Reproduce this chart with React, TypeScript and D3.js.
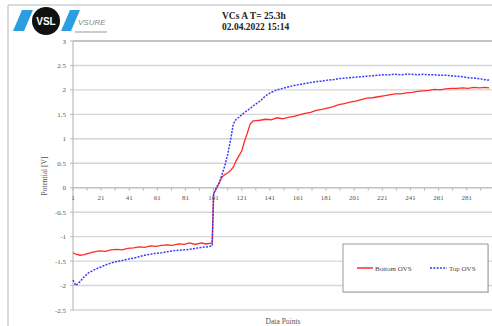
import React from "react";
import * as d3 from "d3";

// sampled data point numbers (shared by both series)
const pointNo = [
  1, 3, 6, 9, 12, 16, 20, 24, 28, 32, 36, 40, 44, 48, 52, 56, 60, 64, 68, 72, 76, 80, 84, 88, 92, 96, 100,
  101, 103, 105, 107, 109, 111, 113, 115, 117, 119, 121, 123, 125, 127, 129, 131, 134, 138, 142, 146, 150,
  154, 158, 162, 166, 170, 174, 178, 182, 186, 190, 194, 198, 202, 206, 210, 214, 218, 222, 226, 230, 234,
  238, 242, 246, 250, 254, 258, 262, 266, 270, 274, 278, 282, 286, 290, 294, 297,
];

const bottomOVS = [
  -1.33, -1.36, -1.38, -1.37, -1.34, -1.31, -1.29, -1.3, -1.27, -1.26, -1.27, -1.24, -1.23, -1.21, -1.22,
  -1.19, -1.2, -1.18, -1.17, -1.18, -1.15, -1.16, -1.13, -1.16, -1.13, -1.15, -1.13,
  -0.12, -0.02, 0.1, 0.22, 0.27, 0.3, 0.35, 0.42, 0.55, 0.65, 0.75, 0.95, 1.12, 1.3, 1.36, 1.37, 1.38, 1.4,
  1.39, 1.43, 1.41, 1.44, 1.46, 1.49, 1.52, 1.54, 1.58, 1.6, 1.63, 1.66, 1.7, 1.72, 1.75, 1.77, 1.8, 1.83,
  1.84, 1.86, 1.88, 1.9, 1.92, 1.92, 1.94, 1.95, 1.97, 1.98, 1.99, 2.01, 2.0, 2.02, 2.03, 2.03, 2.04, 2.03,
  2.05, 2.04, 2.05, 2.04,
];

const topOVS = [
  -1.89, -2.0, -1.92, -1.82, -1.74, -1.68, -1.63, -1.58, -1.54, -1.51, -1.49, -1.46, -1.44, -1.41, -1.38,
  -1.36, -1.34, -1.33, -1.31, -1.29, -1.28, -1.27, -1.26, -1.24, -1.22, -1.21, -1.19,
  -0.12, 0.0, 0.1, 0.27, 0.45, 0.68, 0.97, 1.3, 1.4, 1.44, 1.49, 1.54, 1.58, 1.62, 1.67, 1.71, 1.77, 1.88,
  1.95, 2.0, 2.03, 2.06, 2.09, 2.11, 2.13, 2.15, 2.17, 2.18, 2.2, 2.21, 2.23, 2.24, 2.25, 2.26, 2.27, 2.28,
  2.29, 2.3, 2.31, 2.31, 2.32, 2.31, 2.32, 2.32, 2.31, 2.32, 2.31, 2.31, 2.3, 2.3, 2.29, 2.28, 2.27, 2.25,
  2.24, 2.23, 2.21, 2.2,
];

const xLabels = [1, 21, 41, 61, 81, 101, 121, 141, 161, 181, 201, 221, 241, 261, 281];
const yTicks = [3, 2.5, 2, 1.5, 1, 0.5, 0, -0.5, -1, -1.5, -2, -2.5];

const W = 492;
const H = 326;
const serif = "'Liberation Serif', 'DejaVu Serif', serif";

export default function App() {
  const x = d3.scaleLinear().domain([1, 299]).range([73, 492]);
  const y = d3.scaleLinear().domain([-2.5, 3]).range([310, 41]);

  const line = d3
    .line<number>()
    .x((_, i) => x(pointNo[i]))
    .y((d) => y(d));

  const minorTicks = d3.range(1, 299, 10);

  return (
    <svg
      width={W}
      height={H}
      style={{ position: "absolute", left: 0, top: 0, display: "block", background: "#fff" }}
    >
      {/* outer frame */}
      <line x1={8} y1={5} x2={W} y2={5} stroke="#cfcfcf" strokeWidth={1.5} />
      <line x1={8} y1={5} x2={8} y2={H} stroke="#cfcfcf" strokeWidth={1.5} />

      {/* logo */}
      <path d="M22,10 L33,10 L24,31 L13,31 Z" fill="#2a9ee0" />
      <path d="M70,10 L80,10 L71,31 L61,31 Z" fill="#2a9ee0" />
      <circle cx={46} cy={21} r={14} fill="#111" />
      <text x={46} y={24.5} textAnchor="middle" fill="#fff" fontFamily="'Liberation Sans', Arial, sans-serif"
        fontWeight="bold" fontSize={10}>VSL</text>
      <text x={78} y={25} fill="#888" fontFamily="'Liberation Sans', Arial, sans-serif" fontStyle="italic"
        fontSize={8}>VSURE</text>
      <line x1={75} y1={32} x2={107} y2={32} stroke="#aaa" strokeWidth={1.2} />

      {/* title */}
      <text x={222} y={19} fontFamily={serif} fontWeight="bold" fontSize={9.5} fill="#222">VCs A T= 25.3h</text>
      <text x={222} y={30} fontFamily={serif} fontWeight="bold" fontSize={9.5} fill="#222">02.04.2022 15:14</text>

      {/* grid */}
      {yTicks.map((t) => (
        <g key={t}>
          <line x1={x(1)} x2={W} y1={y(t)} y2={y(t)} stroke={t === 3 ? "#c4c4c4" : "#d6d6d6"}
            strokeWidth={t === 3 ? 2 : 1.4} />
          <line x1={x(1) - 3} x2={x(1)} y1={y(t)} y2={y(t)} stroke="#bbb" />
          <text x={66} y={y(t) + 2.5} textAnchor="end" fontFamily={serif} fontSize={7} fill="#555">
            {String(t)}
          </text>
        </g>
      ))}
      <line x1={x(1)} x2={x(1)} y1={y(3)} y2={y(-2.5)} stroke="#bbb" strokeWidth={1.2} />

      {/* x axis at zero */}
      <line x1={x(1)} x2={W} y1={y(0)} y2={y(0)} stroke="#bbb" strokeWidth={1.2} />
      {minorTicks.map((t) => (
        <line key={t} x1={x(t)} x2={x(t)} y1={y(0)} y2={y(0) + 3} stroke="#bbb" />
      ))}
      {xLabels.map((t) => (
        <text key={t} x={x(t)} y={y(0) + 12} textAnchor="middle" fontFamily={serif} fontSize={7} fill="#555">
          {t}
        </text>
      ))}

      {/* axis titles */}
      <text transform="translate(47,176) rotate(-90)" textAnchor="middle" fontFamily={serif} fontSize={7.5}
        fill="#555">Potential [V]</text>
      <text x={283} y={324} textAnchor="middle" fontFamily={serif} fontSize={7.5} fill="#555">Data Points</text>

      {/* series */}
      <path d={line(bottomOVS) ?? ""} fill="none" stroke="#ff2a2a" strokeWidth={1.3} />
      <path d={line(topOVS) ?? ""} fill="none" stroke="#3a3aff" strokeWidth={1.5} strokeDasharray="2,1.3" />

      {/* legend */}
      <rect x={344} y={245} width={145} height={48} fill="#aaa" opacity={0.4} />
      <rect x={343} y={244} width={145} height={48} fill="#fff" stroke="#9a9a9a" />
      <line x1={357} x2={373} y1={268} y2={268} stroke="#ff2a2a" strokeWidth={1.5} />
      <text x={375} y={270.5} fontFamily={serif} fontSize={7} fill="#444">Bottom OVS</text>
      <line x1={430} x2={447} y1={268} y2={268} stroke="#3a3aff" strokeWidth={1.5} strokeDasharray="2,1.3" />
      <text x={449} y={270.5} fontFamily={serif} fontSize={7} fill="#444">Top OVS</text>
    </svg>
  );
}
